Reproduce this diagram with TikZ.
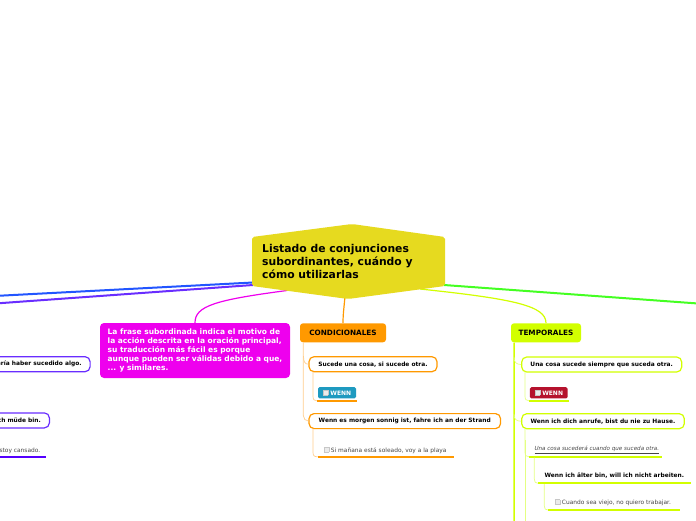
\documentclass[tikz,border=0pt]{standalone}
\usepackage{fontspec}
\setmainfont{DejaVu Sans}
\usetikzlibrary{calc}
\definecolor{cyel}{RGB}{230,218,31}
\definecolor{cmag}{RGB}{238,0,238}
\definecolor{corg}{RGB}{255,153,0}
\definecolor{corgl}{RGB}{255,205,140}
\definecolor{clime}{RGB}{210,255,0}
\definecolor{climel}{RGB}{228,255,130}
\definecolor{cgreen}{RGB}{68,255,34}
\definecolor{cblue}{RGB}{34,85,255}
\definecolor{cpurp}{RGB}{105,45,255}
\definecolor{cpbar}{RGB}{85,0,255}
\definecolor{cteal}{RGB}{30,154,192}
\definecolor{ccrim}{RGB}{181,18,45}
\definecolor{cgraytxt}{RGB}{70,70,70}
\newcommand{\chkbox}{{\setlength{\fboxsep}{0pt}\setlength{\fboxrule}{0.6pt}\fcolorbox{black!22}{black!8}{\rule{0pt}{4.4pt}\hspace{4.4pt}}}}
\tikzset{
  mainline/.style={draw=#1, line width=2pt},
  midline/.style={draw=#1, line width=1.2pt},
  thinline/.style={draw=#1, line width=0.7pt},
  bar/.style={draw=#1, line width=2pt},
  magbox/.style={fill=cmag, rounded corners=4pt, minimum width=190pt, minimum height=55pt,
    text=white, font=\bfseries\fontsize{7.5}{9}\selectfont, align=left, inner sep=0pt},
  hdr/.style={fill=#1, rounded corners=3pt, minimum height=19pt, inner sep=0pt,
    font=\bfseries\fontsize{7.3}{9}\selectfont},
  cbox/.style={draw=#1, fill=white, line width=1.2pt, rounded corners=5pt, minimum height=15pt,
    inner xsep=8.5pt, inner ysep=0pt, font=\bfseries\fontsize{5.9}{7}\selectfont},
  badge/.style={fill=#1, rounded corners=1.5pt, minimum height=11.3pt, inner sep=0pt,
    text=white, font=\bfseries\fontsize{6}{7}\selectfont},
  subtxt/.style={inner sep=0pt, text=cgraytxt, font=\fontsize{5.9}{7}\selectfont},
  boldtxt/.style={inner sep=0pt, font=\bfseries\fontsize{5.9}{7}\selectfont},
}
\begin{document}
\begin{tikzpicture}[x=1pt,y=-1pt]
\useasboundingbox (0,0) rectangle (696,520);
\clip (0,0) rectangle (696,520);

% anchor points on the central topic and off-page ends
\coordinate (cB) at (253,282.5);
\coordinate (cP) at (253,285);
\coordinate (cM) at (287,290.5);
\coordinate (cO) at (345,296);
\coordinate (cL) at (420,289);
\coordinate (cG) at (444,285);
\coordinate (oB) at (-2,295.8);
\coordinate (oP) at (-2,303.3);
\coordinate (oG) at (698,303.5);

% nodes
\node[magbox] (mag) at (195,350.5) {La frase subordinada indica el motivo de\\la acción descrita en la oración principal,\\su traducción más fácil es porque\\aunque pueden ser válidas debido a que,\\... y similares.};
\node[hdr=corg, minimum width=86pt] (cond) at (343,332.8) {CONDICIONALES};
\node[hdr=clime, minimum width=70pt] (temp) at (546,332.8) {TEMPORALES};

% main connectors
\draw[mainline=cblue] (cB) -- (oB);
\draw[mainline=cpurp] (cP) -- (oP);
\draw[mainline=cgreen] (cG) -- (oG);
\draw[midline=cmag] (cM) .. controls (215,300) and (195,306) .. (mag.north);
\draw[midline=corg] (cO) .. controls (344,308) and (343,314) .. (cond.north);
\draw[midline=clime] (cL) .. controls (515,299) and (546,306) .. (temp.north);

% central topic
\fill[cyel, rounded corners=2pt] (252,237) -- (352,224) -- (445,237) -- (445,286) -- (348,299) -- (252,286) -- cycle;
\node[anchor=base west, inner sep=0pt, align=left, font=\bfseries\fontsize{10.8}{13.2}\selectfont] (ctr) at (262,278.5) {Listado de conjunciones\\subordinantes, cuándo y\\cómo utilizarlas};

% ---------- left (purple) branch ----------
\node[cbox=cpurp, anchor=east] (l1) at (90.7,364.2) {ería haber sucedido algo.};
\node[cbox=cpurp, anchor=east] (l2) at (50,420.4) {ch müde bin.};
\node[subtxt, anchor=base east] (l3) at (40.5,452.3) {stoy cansado.};
\coordinate (l3a) at (-3,457.3);
\coordinate (l3b) at (45.7,457.3);
\draw[bar=cpbar] (l3a) -- (l3b);

% ---------- CONDICIONALES ----------
\node[cbox=corg, minimum width=128pt] (o1) at (373,364.2) {Sucede una cosa, si sucede otra.};
\node[cbox=corg, minimum width=191.5pt] (o2) at (404.8,421.1) {Wenn es morgen sonnig ist, fahre ich an der Strand};
\node[badge=cteal, minimum width=38pt] (w1) at (337,392.8) {\chkbox\ WENN};
\coordinate (w1a) at (316.7,400.8);
\coordinate (w1b) at (357.3,400.8);
\draw[bar=corg] (w1a) -- (w1b);
\node[subtxt, anchor=base west] (s1) at (323.3,452) {\chkbox\ Si mañana está soleado, voy a la playa};
\coordinate (s1a) at (317.7,456.8);
\coordinate (s1b) at (454.3,456.8);
\draw[bar=corg] (s1a) -- (s1b);

\draw[thinline=corgl] (cond.south west) ++(3.5,0) -- ++(0,73) .. controls +(0,3) and +(-3,0) .. (o2.west);
\draw[thinline=corgl] (303.5,356) .. controls (303.5,362) and (305,364.2) .. (o1.west);
\draw[thinline=corgl] (313,371.8) -- (313,396) .. controls (313,399.5) and (314,400.8) .. (w1a);
\draw[thinline=corgl] (313,428.7) -- (313,452) .. controls (313,455.5) and (314,456.8) .. (s1a);

% ---------- TEMPORALES ----------
\node[cbox=clime, minimum width=160pt] (t1) at (601.7,364.5) {Una cosa sucede siempre que suceda otra.};
\node[cbox=clime, minimum width=162.6pt] (t2) at (603,421.2) {Wenn ich dich anrufe, bist du nie zu Hause.};
\node[badge=ccrim, minimum width=37.7pt] (w2) at (548.8,392.8) {\chkbox\ WENN};
\coordinate (w2a) at (529,400.8);
\coordinate (w2b) at (569,400.8);
\draw[bar=clime] (w2a) -- (w2b);
\node[subtxt, anchor=base west, font=\itshape\fontsize{5.6}{7}\selectfont] (t3) at (534.3,450.5) {\underline{Una cosa sucederá cuando que suceda otra.}};
\coordinate (t3a) at (529,456.8);
\coordinate (t3b) at (662,456.8);
\draw[bar=clime] (t3a) -- (t3b);
\node[boldtxt, anchor=base west] (t4) at (544.3,477) {Wenn ich älter bin, will ich nicht arbeiten.};
\coordinate (t4a) at (538,483.3);
\coordinate (t4b) at (690.7,483.3);
\draw[bar=clime] (t4a) -- (t4b);
\node[subtxt, anchor=base west] (t5) at (554.3,504.3) {\chkbox\ Cuando sea viejo, no quiero trabajar.};
\coordinate (t5a) at (548,510);
\coordinate (t5b) at (680,510);
\draw[bar=clime] (t5a) -- (t5b);

\draw[clime, line width=1.5pt] (temp.south west) ++(3.3,0) -- (514,522);
\draw[thinline=climel] (514,357) .. controls (514,362) and (516,364.5) .. (t1.west);
\draw[thinline=climel] (514,414) .. controls (514,419) and (516,421.2) .. (t2.west);
\draw[thinline=climel] (525,372) -- (525,396) .. controls (525,399.5) and (526,400.8) .. (w2a);
\draw[thinline=climel] (525,428.6) -- (525,452) .. controls (525,455.5) and (526,456.8) .. (t3a);
\draw[thinline=climel] (525,440) -- (525,522);
\draw[thinline=climel] (534.3,457.5) -- (534.3,479) .. controls (534.3,482) and (535.5,483.3) .. (t4a);
\draw[thinline=climel] (544.3,484) -- (544.3,506) .. controls (544.3,509) and (545.5,510) .. (t5a);
\end{tikzpicture}
\end{document}
